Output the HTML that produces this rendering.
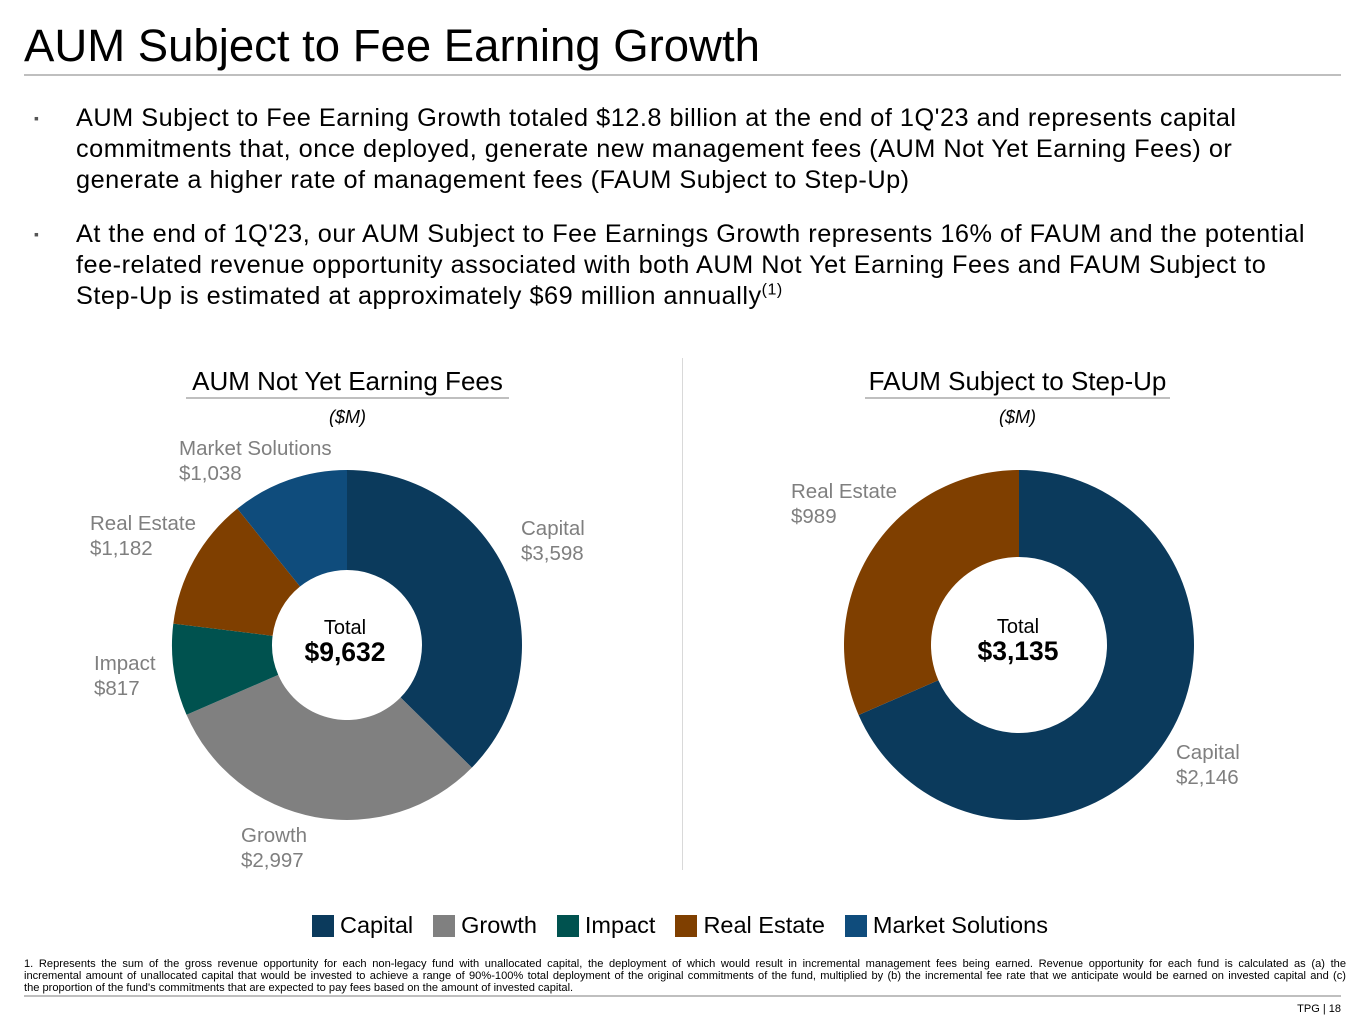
<!DOCTYPE html>
<html><head><meta charset="utf-8"><style>
body{margin:0;width:1365px;height:1024px;background:#fff;font-family:"Liberation Sans",Arial,sans-serif;position:relative;overflow:hidden;color:#000}
.abs{position:absolute}
.title{left:24px;top:20px;font-size:45.5px;color:#000}
.rule{left:24px;width:1317px;height:2px;background:#bfbfbf}
.bullet{left:34px;font-size:25.3px;line-height:31px;width:1292px;letter-spacing:0.5px}
.bullet .m{position:absolute;left:0;top:0;font-size:14px;color:#555}
.bullet .t{margin-left:42px;display:block}
.ct{font-size:26px;text-align:center}
.lab{font-size:20.5px;color:#7f7f7f;line-height:25px}
.leg{top:912px;font-size:23.5px;display:flex;align-items:center}
.leg>span{margin-right:20px}
.sq{width:22px;height:22px;margin-right:6px;display:inline-block}
.fn div{text-align:justify;text-align-last:justify;white-space:nowrap}
.fn div.last{text-align-last:left}
</style></head><body>
<div class="abs title">AUM Subject to Fee Earning Growth</div>
<div class="abs rule" style="top:74px"></div>
<div class="abs bullet" style="top:103px"><span class="m">▪</span><span class="t">AUM Subject to Fee Earning Growth totaled $12.8 billion at the end of 1Q'23 and represents capital commitments that, once deployed, generate new management fees (AUM Not Yet Earning Fees) or generate a higher rate of management fees (FAUM Subject to Step-Up)</span></div>
<div class="abs bullet" style="top:219px"><span class="m">▪</span><span class="t">At the end of 1Q'23, our AUM Subject to Fee Earnings Growth represents 16% of FAUM and the potential fee-related revenue opportunity associated with both AUM Not Yet Earning Fees and FAUM Subject to Step-Up is estimated at approximately $69 million annually<sup style="font-size:16px;line-height:0">(1)</sup></span></div>

<div class="abs ct" style="left:176px;top:366px;width:343px">AUM Not Yet Earning Fees</div>
<div class="abs" style="left:186px;top:397px;width:323px;height:2px;background:#bfbfbf"></div>
<div class="abs" style="left:186px;top:407px;width:323px;text-align:center;font-size:18px;font-style:italic">($M)</div>
<div class="abs ct" style="left:855px;top:366px;width:325px">FAUM Subject to Step-Up</div>
<div class="abs" style="left:865px;top:397px;width:305px;height:2px;background:#bfbfbf"></div>
<div class="abs" style="left:865px;top:407px;width:305px;text-align:center;font-size:18px;font-style:italic">($M)</div>
<div class="abs" style="left:682px;top:358px;width:1px;height:512px;background:#d9d9d9"></div>

<svg class="abs" style="left:0;top:0" width="1365" height="1024" id="svg"></svg>

<div class="abs lab" style="left:521px;top:516px">Capital<br>$3,598</div>
<div class="abs lab" style="left:241px;top:823px">Growth<br>$2,997</div>
<div class="abs lab" style="left:94px;top:651px">Impact<br>$817</div>
<div class="abs lab" style="left:90px;top:511px">Real Estate<br>$1,182</div>
<div class="abs lab" style="left:179px;top:436px">Market Solutions<br>$1,038</div>
<div class="abs lab" style="left:791px;top:479px">Real Estate<br>$989</div>
<div class="abs lab" style="left:1176px;top:740px">Capital<br>$2,146</div>

<div class="abs" style="left:245px;top:616px;width:200px;text-align:center;font-size:20px;line-height:24px">Total<br><b style="font-size:26.5px">$9,632</b></div>
<div class="abs" style="left:918px;top:615px;width:200px;text-align:center;font-size:20px;line-height:24px">Total<br><b style="font-size:26.5px">$3,135</b></div>

<div class="abs leg" style="left:312px">
<span style="display:flex;align-items:center"><span class="sq" style="background:#0b3a5c"></span>Capital</span>
<span style="display:flex;align-items:center"><span class="sq" style="background:#808080"></span>Growth</span>
<span style="display:flex;align-items:center"><span class="sq" style="background:#00524f"></span>Impact</span>
<span style="display:flex;align-items:center"><span class="sq" style="background:#7f3f00"></span>Real Estate</span>
<span style="display:flex;align-items:center"><span class="sq" style="background:#0f4c7c"></span>Market Solutions</span>
</div>

<div class="abs fn" style="left:24px;top:958px;width:1322px;font-size:11.1px;line-height:12px">
<div>1. Represents the sum of the gross revenue opportunity for each non-legacy fund with unallocated capital, the deployment of which would result in incremental management fees being earned. Revenue opportunity for each fund is calculated as (a) the</div>
<div>incremental amount of unallocated capital that would be invested to achieve a range of 90%-100% total deployment of the original commitments of the fund, multiplied by (b) the incremental fee rate that we anticipate would be earned on invested capital and (c)</div>
<div class="last">the proportion of the fund's commitments that are expected to pay fees based on the amount of invested capital.</div>
</div>
<div class="abs rule" style="top:995px"></div>
<div class="abs" style="right:24px;top:1003px;font-size:11px">TPG | 18</div>

<script>
const cats1=["Capital","Growth","Impact","Real Estate","Market Solutions"];
const vals1=[3598,2997,817,1182,1038];
const cats2=["Capital","Real Estate"];
const vals2=[2146,989];
const colors={"Capital":"#0b3a5c","Growth":"#808080","Impact":"#00524f","Real Estate":"#7f3f00","Market Solutions":"#0f4c7c"};
const svg=document.getElementById('svg');
function donut(cats,vals,cx,cy,ro,ri,prefix){
  const tot=vals.reduce((a,b)=>a+b,0);let a0=0;
  vals.forEach((v,i)=>{
    const a1=a0+v/tot*2*Math.PI;
    const p=(r,a)=>[cx+r*Math.sin(a),cy-r*Math.cos(a)];
    const big=(a1-a0)>Math.PI?1:0;
    const [x0,y0]=p(ro,a0),[x1,y1]=p(ro,a1),[x2,y2]=p(ri,a1),[x3,y3]=p(ri,a0);
    const path=document.createElementNS('http://www.w3.org/2000/svg','path');
    path.setAttribute('d',`M${x0},${y0}A${ro},${ro} 0 ${big} 1 ${x1},${y1}L${x2},${y2}A${ri},${ri} 0 ${big} 0 ${x3},${y3}Z`);
    path.setAttribute('fill',colors[cats[i]]);
    
    
    svg.appendChild(path);a0=a1;
  });
}
donut(cats1,vals1,347,645,175,75,'chart1');
donut(cats2,vals2,1019,645,175,88,'chart2');
</script>
</body></html>
